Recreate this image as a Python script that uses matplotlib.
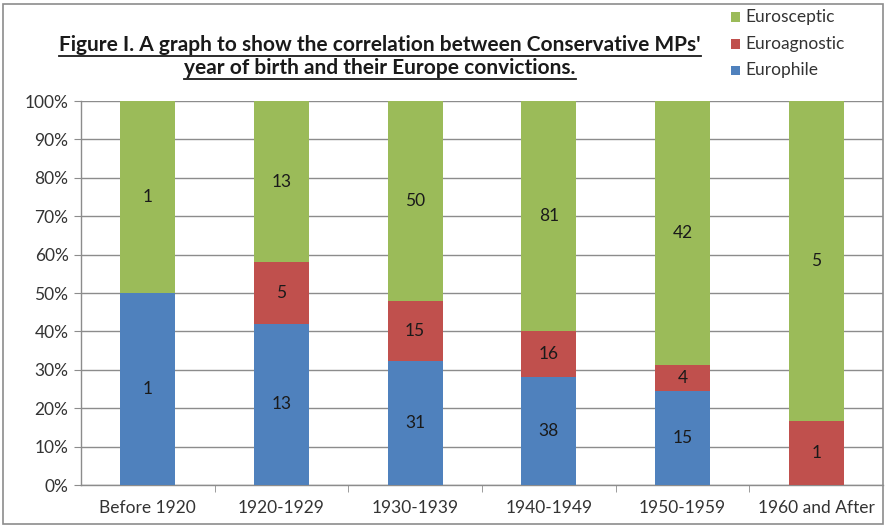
import matplotlib
matplotlib.use("Agg")
import matplotlib.pyplot as plt
import numpy as np
from matplotlib.lines import Line2D
from matplotlib.patches import Rectangle

plt.rcParams['font.family'] = ['Lato', 'DejaVu Sans']

categories = ["Before 1920", "1920-1929", "1930-1939", "1940-1949", "1950-1959", "1960 and After"]
europhile = [1, 13, 31, 38, 15, 0]
euroagnostic = [0, 5, 15, 16, 4, 1]
eurosceptic = [1, 13, 50, 81, 42, 5]
y_ticks = [0, 10, 20, 30, 40, 50, 60, 70, 80, 90, 100]

series = [("Europhile", europhile, "#4F81BD"),
          ("Euroagnostic", euroagnostic, "#C0504D"),
          ("Eurosceptic", eurosceptic, "#9BBB59")]

totals = np.array(europhile) + np.array(euroagnostic) + np.array(eurosceptic)

fig = plt.figure(figsize=(8.86, 5.27), dpi=100)
ax = fig.add_axes([81 / 886, 1 - 485 / 527, 802 / 886, 384 / 527])

x = np.arange(len(categories))
bottom = np.zeros(len(categories))
for name, vals, color in series:
    vals = np.array(vals, dtype=float)
    pct = vals / totals * 100
    ax.bar(x, pct, bottom=bottom, width=0.41, color=color, zorder=3, label=name)
    for xi, p, b, v in zip(x, pct, bottom, vals):
        if v > 0:
            ax.text(xi, b + p / 2, f"{int(v)}", ha="center", va="center",
                    fontsize=12.5, color="#1a1a1a", zorder=4)
    bottom += pct

ax.set_xlim(-0.5, len(categories) - 0.5)
ax.set_ylim(0, 100)
ax.set_yticks(y_ticks)
ax.set_yticklabels([f"{t}%" for t in y_ticks], fontsize=12.5, color="#333333")
ax.yaxis.grid(True, color="#8C8C8C", linewidth=1, zorder=0)
ax.set_axisbelow(True)

ax.set_xticks(x)
ax.set_xticklabels(categories, fontsize=12.5, color="#333333")
ax.tick_params(axis="x", length=0, pad=11)
ax.set_xticks(np.arange(0.5, len(categories) - 0.5, 1), minor=True)
ax.tick_params(axis="x", which="minor", length=5, color="#8C8C8C", direction="out")
ax.tick_params(axis="y", length=5, color="#8C8C8C", direction="out", pad=4)

for side in ["top", "right"]:
    ax.spines[side].set_visible(False)
for side in ["left", "bottom"]:
    ax.spines[side].set_color("#8C8C8C")
    ax.spines[side].set_linewidth(1)

# Title, two centred lines, bold and underlined
title_lines = ["Figure I. A graph to show the correlation between Conservative MPs'",
               "year of birth and their Europe convictions."]
title_y = [45, 68]
texts = []
for line, yp in zip(title_lines, title_y):
    t = fig.text(380 / 886, 1 - yp / 527, line, ha="center", va="center",
                 fontsize=15, fontweight="bold", color="#1a1a1a")
    texts.append(t)

fig.canvas.draw()
renderer = fig.canvas.get_renderer()
for t in texts:
    bb = t.get_window_extent(renderer).transformed(fig.transFigure.inverted())
    yl = bb.y0 - 1.0 / 527
    fig.add_artist(Line2D([bb.x0, bb.x1], [yl, yl], transform=fig.transFigure,
                          color="#1a1a1a", linewidth=1.3))

# Legend entries, top right
legend_items = [("Eurosceptic", "#9BBB59", 17),
                ("Euroagnostic", "#C0504D", 44),
                ("Europhile", "#4F81BD", 70)]
for name, color, yp in legend_items:
    fig.add_artist(Rectangle((731 / 886, 1 - (yp + 4.5) / 527), 9 / 886, 9 / 527,
                             transform=fig.transFigure, facecolor=color, edgecolor="none"))
    fig.text(745 / 886, 1 - yp / 527, name, ha="left", va="center",
             fontsize=12.5, color="#333333")

# Chart border
fig.add_artist(Rectangle((3 / 886, 3 / 527), 880 / 886, 520 / 527, transform=fig.transFigure,
                         facecolor="none", edgecolor="#8C8C8C", linewidth=1.2))

fig.savefig("out.png", dpi=100)
